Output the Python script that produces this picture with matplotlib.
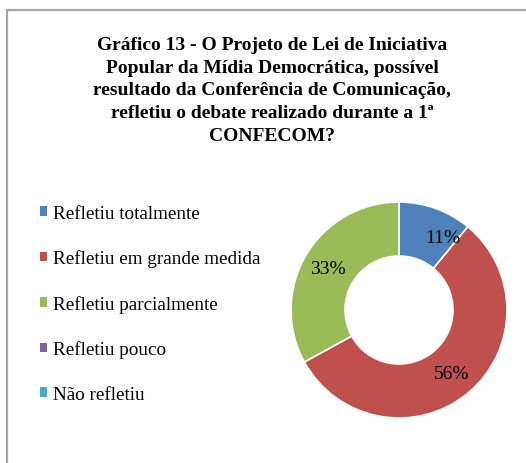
import matplotlib
matplotlib.use("Agg")
import matplotlib.pyplot as plt
from matplotlib.patches import Patch
from matplotlib.lines import Line2D

plt.rcParams['font.family'] = ['Liberation Serif', 'DejaVu Serif']

# dados
categorias = ['Refletiu totalmente', 'Refletiu em grande medida',
              'Refletiu parcialmente', 'Refletiu pouco', 'Não refletiu']
valores = [11, 56, 33, 0, 0]
cores = ['#4F81BD', '#C0504D', '#9BBB59', '#8064A2', '#4BACC6']
titulo = ('Gráfico 13 - O Projeto de Lei de Iniciativa\n'
          'Popular da Mídia Democrática, possível\n'
          'resultado da Conferência de Comunicação,\n'
          'refletiu o debate realizado durante a 1ª\n'
          'CONFECOM?')

W, H = 526, 464
fig = plt.figure(figsize=(W / 100, H / 100), dpi=100)

# moldura (só topo e esquerda visíveis)
fig.add_artist(Line2D([7 / W, 1.0], [1 - 11 / H, 1 - 11 / H], color='#A6A6A6', lw=1.6))
fig.add_artist(Line2D([7 / W, 7 / W], [0, 1 - 11 / H], color='#A6A6A6', lw=1.6))

fig.text(272 / W, 1 - 91 / H, titulo, ha='center', va='center', fontsize=14,
         fontweight='bold', linespacing=1.44)

# rosca
cx, cy, r = 399, 311, 108
ax = fig.add_axes([(cx - r) / W, (H - cy - r) / H, 2 * r / W, 2 * r / H])
vals = [v for v in valores if v > 0]
cs = [c for v, c in zip(valores, cores) if v > 0]
wedges, texts, autotexts = ax.pie(vals, colors=cs, startangle=90, counterclock=False,
                                  radius=1, autopct='%d%%', pctdistance=0.76,
                                  wedgeprops=dict(width=0.5, edgecolor='white', linewidth=1.2),
                                  textprops=dict(fontsize=14, color='black'))
# rótulo da fatia pequena fica mais à direita, como no original
x0, y0 = autotexts[0].get_position()
autotexts[0].set_position((x0 + 0.15, y0 - 0.04))
ax.set_xlim(-1, 1)
ax.set_ylim(-1, 1)
ax.axis('off')

# legenda
handles = [Patch(facecolor=c, edgecolor='none') for c in cores]
fig.legend(handles, categorias, loc='upper left', bbox_to_anchor=(40 / W, 1 - 206 / H),
           frameon=False, fontsize=13.8, handlelength=0.38, handleheight=0.38,
           handletextpad=0.32, labelspacing=1.44, borderaxespad=0, borderpad=0)

fig.savefig('out.png', dpi=100)
